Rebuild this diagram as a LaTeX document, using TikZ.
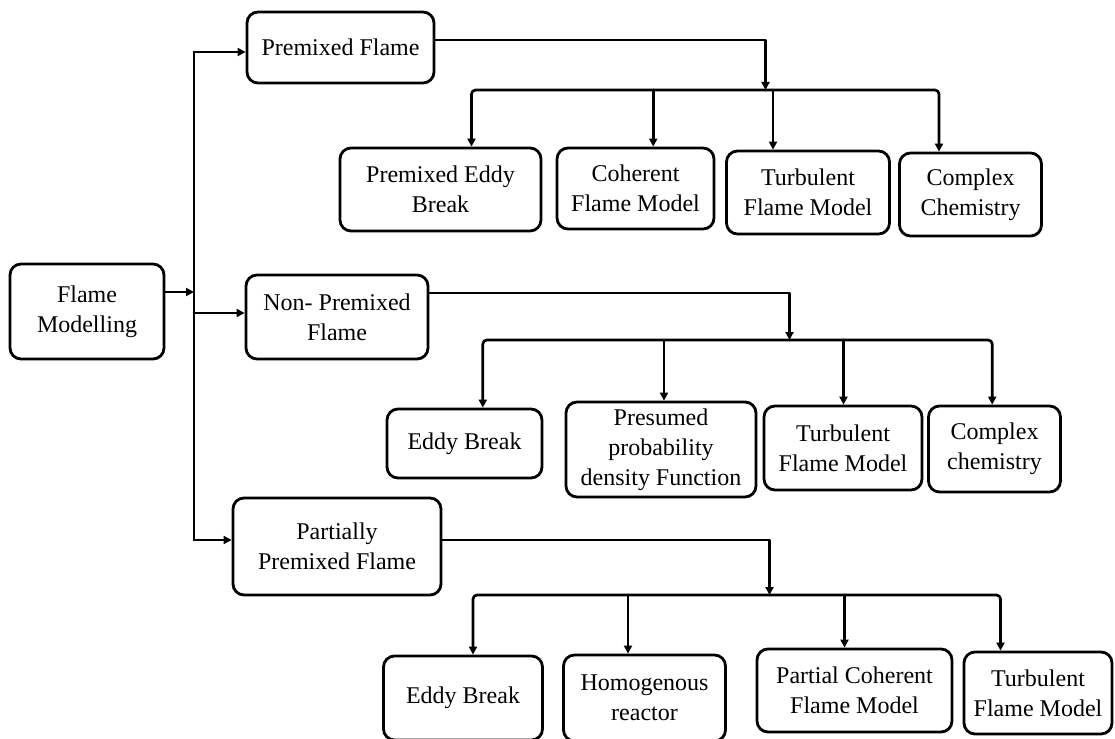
\documentclass[tikz,border=0pt]{standalone}
\usepackage{fontspec}
\setmainfont{Liberation Serif}
\usetikzlibrary{arrows.meta}

\tikzset{
    model/.style={draw, line width=2.8pt, rounded corners=11pt, align=center, inner sep=0pt,
        font=\fontsize{24}{30}\selectfont},
    link/.style={line width=2.7pt, line cap=round, line join=round}
}

\begin{document}
\begin{tikzpicture}[x=1pt,y=-1pt,>={Triangle[length=8pt,width=8pt]}]
    \useasboundingbox (0,0) rectangle (1115,738);
    \clip (0,0) rectangle (1115,738);

    % Root and the three flame types
    \node[model, minimum width=154, minimum height=95] (FM) at (87,311.5) {Flame\\Modelling};
    \node[model, minimum width=187, minimum height=71] (PF) at (340.5,47.5) {Premixed Flame};
    \node[model, minimum width=182, minimum height=84] (NP) at (337,317) {Non- Premixed\\Flame};
    \node[model, minimum width=208, minimum height=97] (PP) at (337,546.5) {Partially\\Premixed Flame};

    % Premixed models
    \node[model, minimum width=201, minimum height=83] (PE) at (440.5,189.5) {Premixed Eddy\\Break};
    \node[model, minimum width=157, minimum height=81] (CF) at (635.5,188.5) {Coherent\\Flame Model};
    \node[model, minimum width=163, minimum height=83] (TF) at (808,192.5) {Turbulent\\Flame Model};
    \node[model, minimum width=142, minimum height=83] (CC) at (970.5,194.5) {Complex\\Chemistry};

    % Non-premixed models
    \node[model, minimum width=155, minimum height=69] (EB) at (464.5,443.5) {Eddy Break};
    \node[model, minimum width=190, minimum height=95] (PD) at (661,449.5) {Presumed\\probability\\density Function};
    \node[model, minimum width=158, minimum height=84] (TN) at (843,448) {Turbulent\\Flame Model};
    \node[model, minimum width=132, minimum height=86] (CN) at (994.5,449) {Complex\\chemistry};

    % Partially premixed models
    \node[model, minimum width=159, minimum height=84] (EP) at (463,698) {Eddy Break};
    \node[model, minimum width=162, minimum height=86] (HR) at (644.5,698) {Homogenous\\reactor};
    \node[model, minimum width=195, minimum height=83] (PC) at (854.5,690.5) {Partial Coherent\\Flame Model};
    \node[model, minimum width=148, minimum height=82] (TP) at (1038,693) {Turbulent\\Flame Model};

    % Trunk
    \coordinate (t0) at (194,292);
    \coordinate (t1) at (194,52);
    \coordinate (t2) at (194,313);
    \coordinate (t3) at (194,540);
    \draw[link,->] (FM.east |- t0) -- (t0);
    \draw[link] (t1) -- (t3);
    \foreach \kind/\t in {PF/t1, NP/t2, PP/t3} {
            \draw[link,->] (\t) -- (\kind.west |- \t);
        }

    % Drop points above the models
    \foreach \kid/\dx in {PE/31, CF/17.7, TF/-35, CC/-31.5, EB/18.3, PD/3, TN/0.5, CN/-2.3, EP/10, HR/-16.5, PC/-10, TP/-37.5} {
            \coordinate (d\kid) at ([xshift=\dx pt]\kid.north);
        }

    % Premixed branch
    \coordinate (b1) at (765.5,90);
    \draw[link,->] ([yshift=7.5pt]PF.east) -| (b1);
    \draw[link,->,rounded corners=4pt] (b1) -| (dPE);
    \draw[link,->,rounded corners=4pt] (b1) -| (dCC);
    \foreach \kid in {CF,TF} {
            \draw[link,->] (b1 -| d\kid) -- (d\kid);
        }

    % Non-premixed branch
    \coordinate (b2) at (789.5,340);
    \draw[link,->] ([yshift=24pt]NP.east) -| (b2);
    \draw[link,->,rounded corners=4pt] (b2) -| (dEB);
    \draw[link,->,rounded corners=4pt] (b2) -| (dCN);
    \foreach \kid in {PD,TN} {
            \draw[link,->] (b2 -| d\kid) -- (d\kid);
        }

    % Partially premixed branch
    \coordinate (b3) at (769.5,595);
    \draw[link,->] ([yshift=6.5pt]PP.east) -| (b3);
    \draw[link,->,rounded corners=4pt] (b3) -| (dEP);
    \draw[link,->,rounded corners=4pt] (b3) -| (dTP);
    \foreach \kid in {HR,PC} {
            \draw[link,->] (b3 -| d\kid) -- (d\kid);
        }
\end{tikzpicture}
\end{document}
